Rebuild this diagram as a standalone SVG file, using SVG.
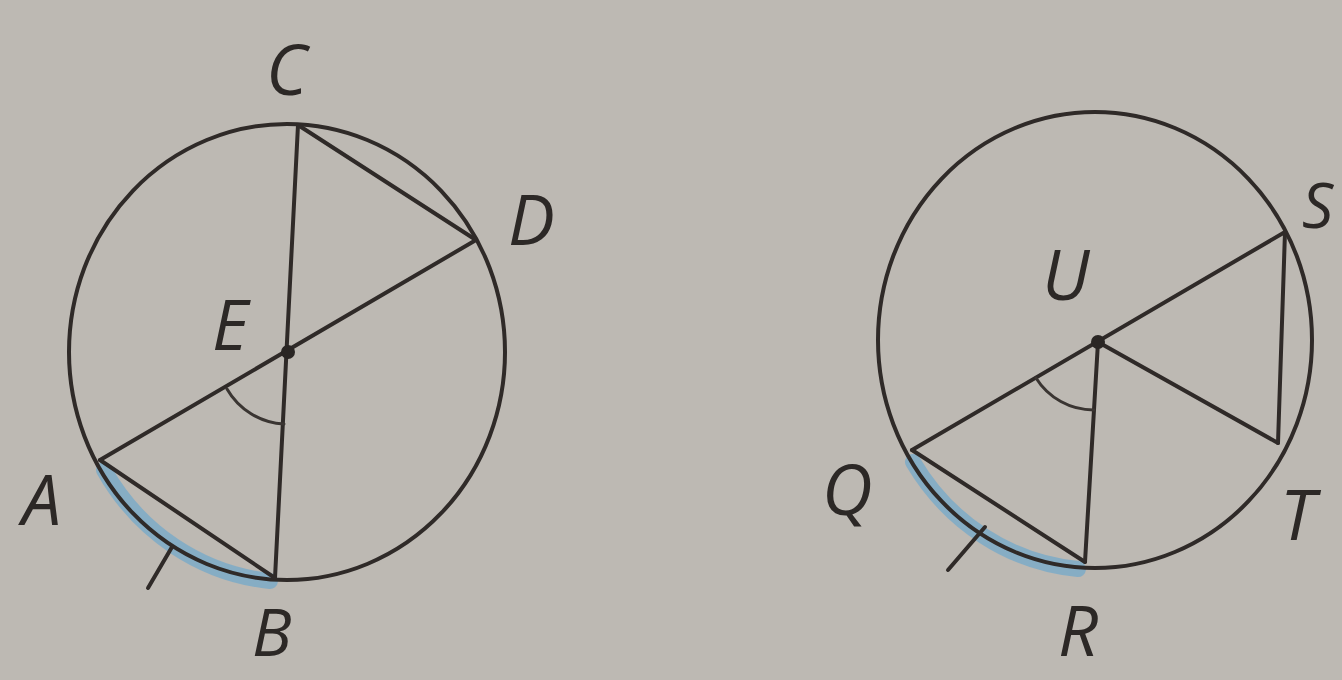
<svg xmlns="http://www.w3.org/2000/svg" width="1342" height="680" viewBox="0 0 1342 680">
<style>
.ln{fill:none;stroke:#2f2a28;stroke-width:4;stroke-linecap:round}
.thin{fill:none;stroke:#3a3532;stroke-width:3;stroke-linecap:round}
.hl{fill:none;stroke:#6fa8cc;stroke-width:16;stroke-linecap:round;opacity:0.7}
.lb{font-family:"Open Sans","Liberation Sans",sans-serif;font-style:italic;font-size:70px;fill:#2c2826}
</style>
<rect width="1342" height="680" fill="#bdb9b3"/>
<g id="left-figure">
<path class="hl" d="M104 470 A218 228 0 0 0 270 581"/>
<ellipse class="ln" cx="287" cy="352" rx="218" ry="228"/>
<path class="ln" d="M298 125 L275 578"/>
<path class="ln" d="M100 460 L476 240"/>
<path class="ln" d="M298 125 L476 240"/>
<path class="ln" d="M100 460 L275 578"/>
<path class="thin" d="M227 389 A70 70 0 0 0 284 424"/>
<path class="ln" d="M148 588 L172 547"/>
<circle cx="288" cy="352" r="7" fill="#2a2624"/>
</g>
<g id="right-figure">
<path class="hl" d="M913 462 A217 228 0 0 0 1078 569"/>
<ellipse class="ln" cx="1095" cy="340" rx="217" ry="228"/>
<path class="ln" d="M912 450 L1285 232"/>
<path class="ln" d="M1098 342 L1085 562"/>
<path class="ln" d="M1098 342 L1278 443"/>
<path class="ln" d="M1285 232 L1278 443"/>
<path class="ln" d="M912 450 L1085 562"/>
<path class="thin" d="M1036 378 A68 68 0 0 0 1094 410"/>
<path class="ln" d="M948 570 L985 527"/>
<circle cx="1098" cy="342" r="7" fill="#2a2624"/>
</g>
<g id="labels">
<text class="lb" x="252" y="656" style="font-size:66px">B</text>
<text class="lb" x="266" y="95">C</text>
<text class="lb" x="508" y="245">D</text>
<text class="lb" x="212" y="350">E</text>
<text class="lb" x="22" y="525">A</text>
<text class="lb" x="1042" y="300">U</text>
<text class="lb" x="1302" y="228" style="font-size:62px">S</text>
<text class="lb" x="822" y="515">Q</text>
<text class="lb" x="1280" y="540">T</text>
<text class="lb" x="1058" y="656">R</text>
</g>
</svg>
